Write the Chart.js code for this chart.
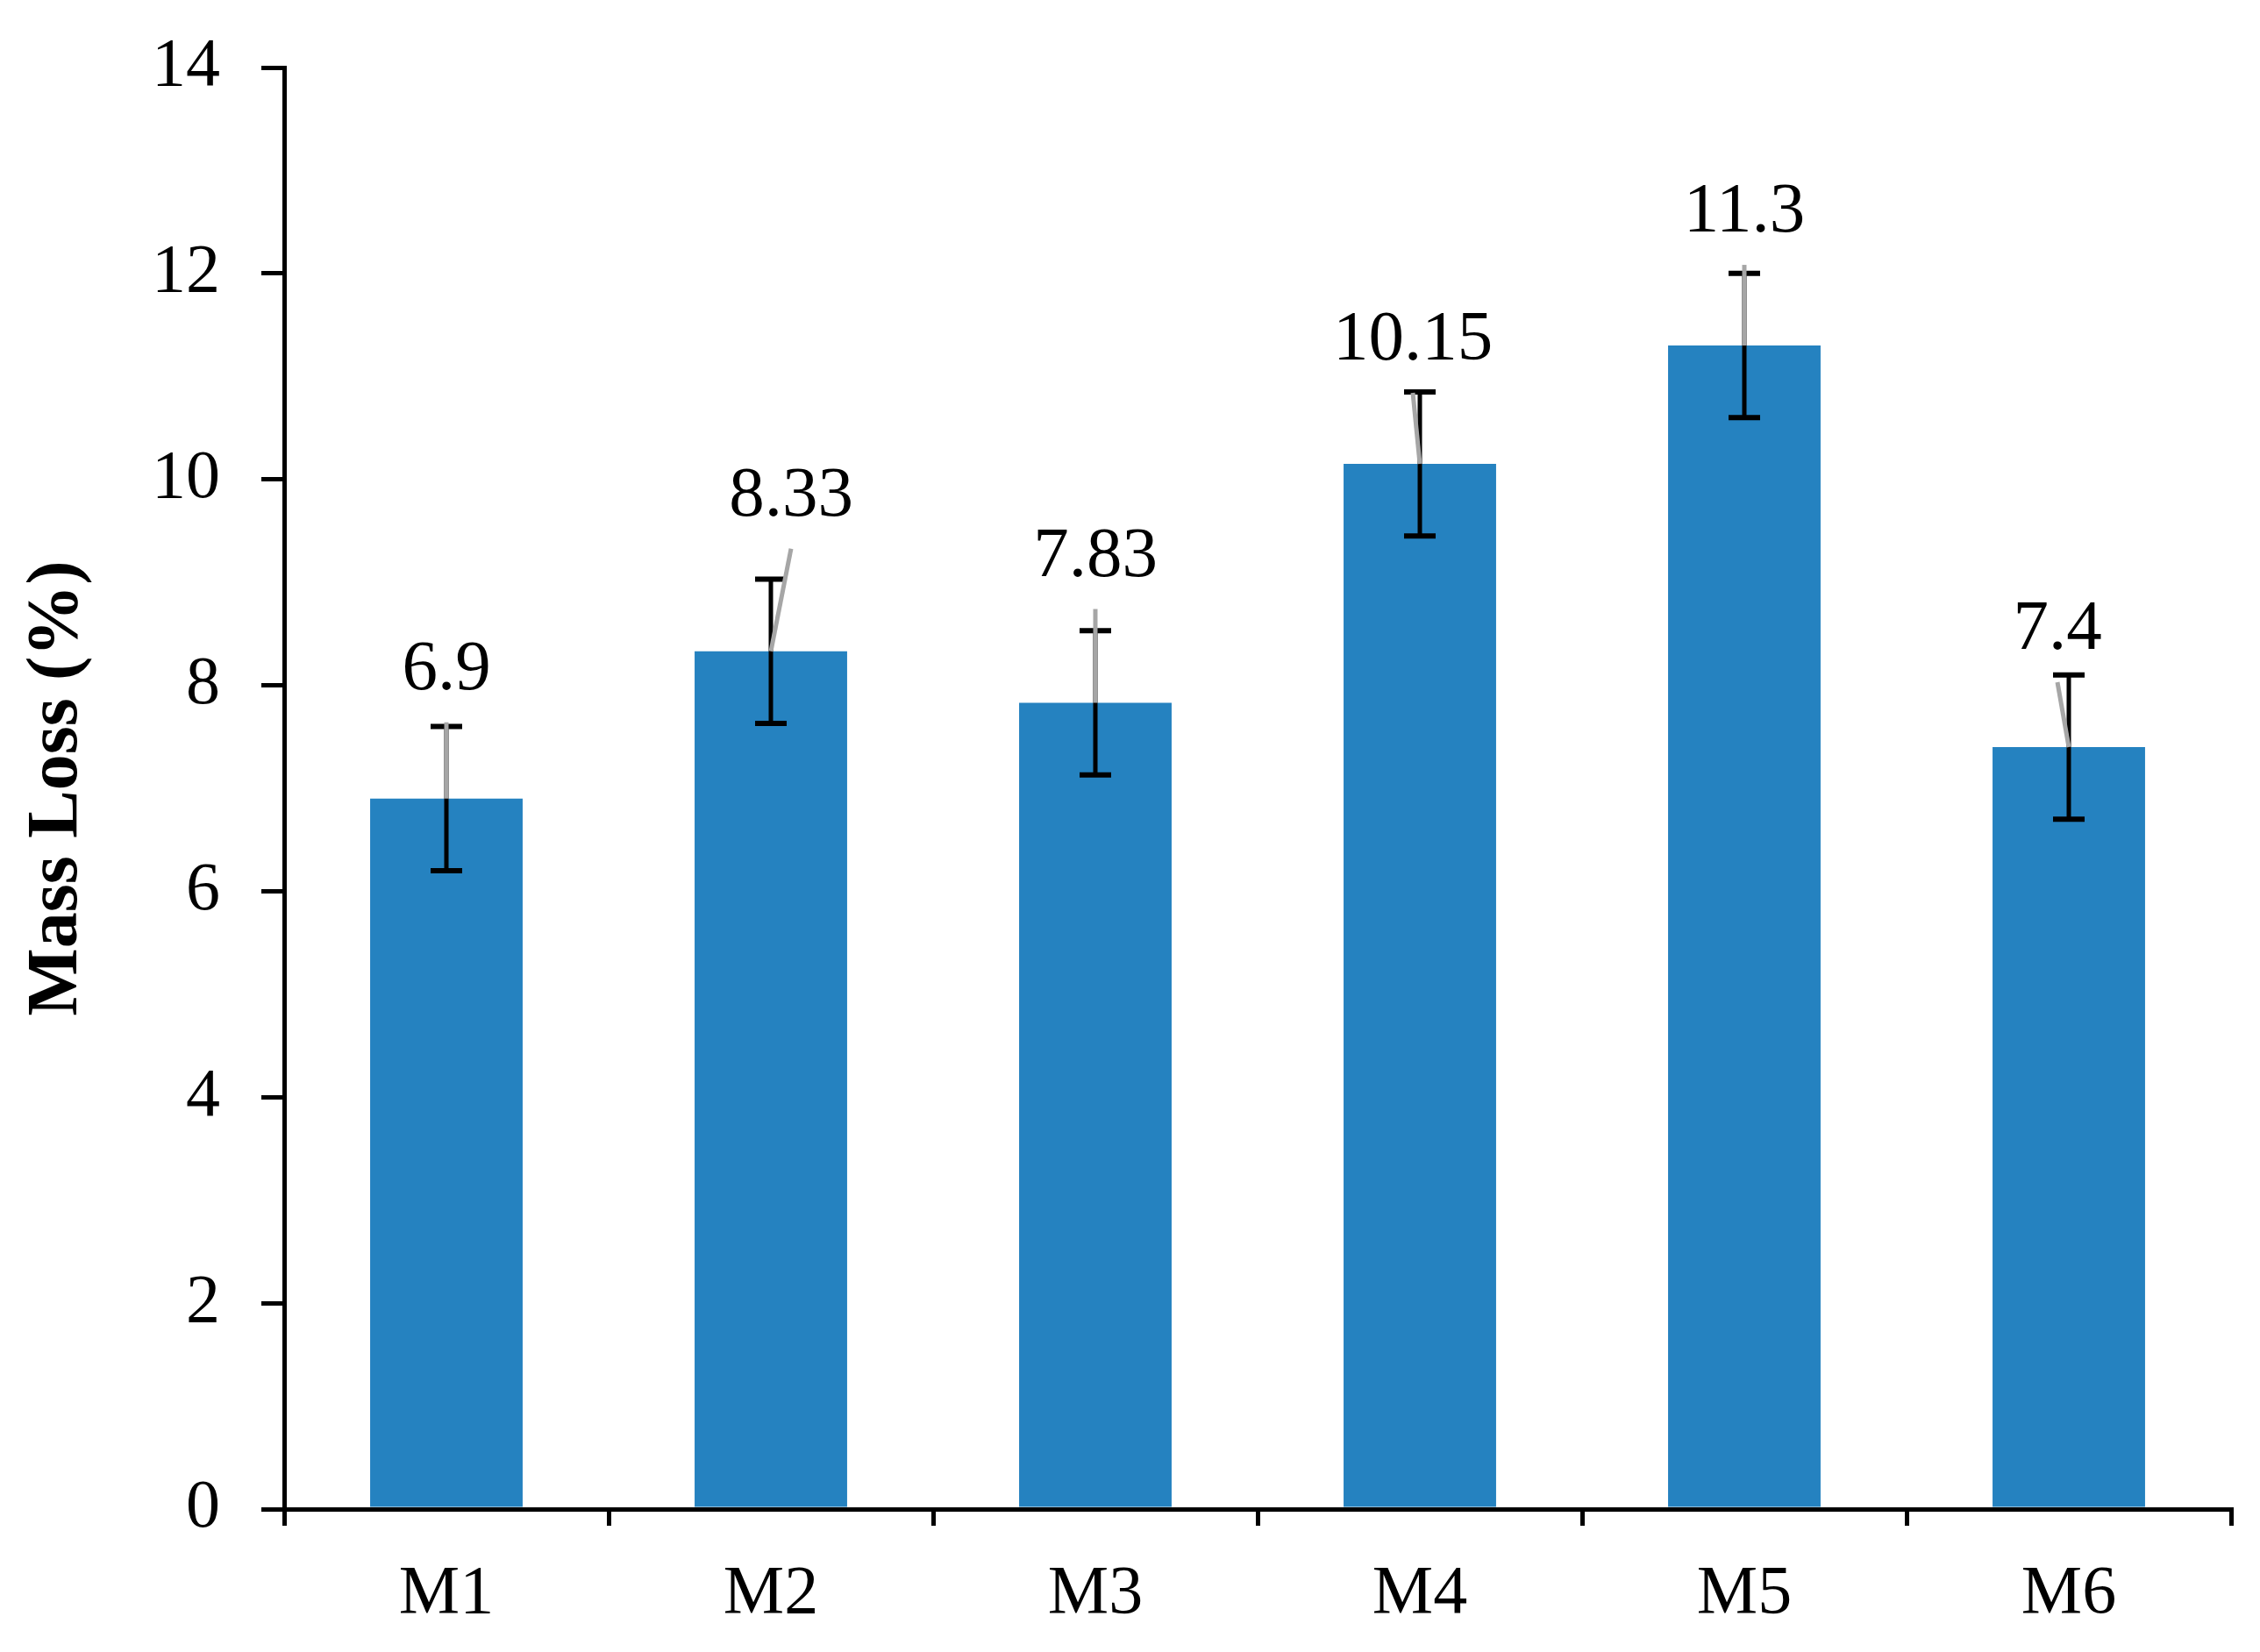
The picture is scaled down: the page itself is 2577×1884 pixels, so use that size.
<!DOCTYPE html>
<html>
<head>
<meta charset="utf-8">
<script src="https://cdn.jsdelivr.net/npm/chart.js@4/dist/chart.umd.min.js"></script>
<style>
  html, body { margin: 0; padding: 0; background: #ffffff; }
  #wrap { width: 2577px; height: 1884px; }
</style>
</head>
<body>
<div id="wrap"><canvas id="c" width="2577" height="1884"></canvas></div>
<script>
// ---- data ----
const categories = ['M1', 'M2', 'M3', 'M4', 'M5', 'M6'];
const massLoss = [6.9, 8.33, 7.83, 10.15, 11.3, 7.4];
const errorBars = [0.7, 0.7, 0.7, 0.7, 0.7, 0.7];
const yAxisMin = 0;
const yAxisMax = 14;
const yAxisStep = 2;
const yTitle = 'Mass Loss (%)';

// ---- styling (pixel offsets of the moved data labels) ----
const labelShift = [[0, -146], [23, -176], [0, -166], [-8, -140], [0, -151], [-13, -133]];

const FONT = '"Liberation Serif", "Times New Roman", Times, serif';

const errorAndLabelPlugin = {
  id: 'errorAndLabel',
  afterDatasetsDraw(chart) {
    const ctx = chart.ctx;
    const meta = chart.getDatasetMeta(0);
    const ys = chart.scales.y;
    ctx.save();
    ctx.strokeStyle = '#000000';
    ctx.lineCap = 'butt';
    meta.data.forEach((bar, i) => {
      const x = bar.x;
      const hi = ys.getPixelForValue(massLoss[i] + errorBars[i]);
      const lo = ys.getPixelForValue(massLoss[i] - errorBars[i]);
      ctx.lineWidth = 5;
      ctx.beginPath();
      ctx.moveTo(x, hi);
      ctx.lineTo(x, lo);
      ctx.stroke();
      ctx.lineWidth = 6;
      ctx.beginPath();
      ctx.moveTo(x - 18, hi);
      ctx.lineTo(x + 18, hi);
      ctx.moveTo(x - 18, lo);
      ctx.lineTo(x + 18, lo);
      ctx.stroke();
    });
    meta.data.forEach((bar, i) => {
      const x = bar.x;
      const top = ys.getPixelForValue(massLoss[i]);
      const lx = x + labelShift[i][0];
      const ly = top + labelShift[i][1];
      ctx.strokeStyle = '#A6A6A6';
      ctx.lineWidth = 5;
      ctx.beginPath();
      ctx.moveTo(x, top);
      ctx.lineTo(lx, ly + 59);
      ctx.stroke();
      ctx.fillStyle = '#000000';
      ctx.font = '81px ' + FONT;
      ctx.textAlign = 'center';
      ctx.textBaseline = 'middle';
      ctx.fillText(String(massLoss[i]), lx, ly);
    });
    ctx.restore();
  }
};

new Chart(document.getElementById('c'), {
  type: 'bar',
  data: {
    labels: categories,
    datasets: [{
      data: massLoss,
      backgroundColor: '#2582C0',
      borderWidth: 0,
      barPercentage: 0.47,
      categoryPercentage: 1.0
    }]
  },
  options: {
    responsive: false,
    animation: false,
    events: [],
    layout: { padding: { left: 0, right: 33, top: 77, bottom: 0 } },
    plugins: {
      legend: { display: false },
      tooltip: { enabled: false },
      title: { display: false }
    },
    scales: {
      x: {
        grid: {
          display: true,
          drawOnChartArea: false,
          drawTicks: true,
          tickLength: 19,
          color: '#000000',
          lineWidth: 5,
          offset: true
        },
        border: { display: true, color: '#000000', width: 5 },
        ticks: {
          color: '#000000',
          font: { family: FONT, size: 78 },
          padding: 32,
          maxRotation: 0
        },
        afterFit(scale) { scale.height = 1884 - 1721; }
      },
      y: {
        min: yAxisMin,
        max: yAxisMax,
        grid: {
          display: true,
          drawOnChartArea: false,
          drawTicks: true,
          tickLength: 26,
          color: '#000000',
          lineWidth: 5
        },
        border: { display: true, color: '#000000', width: 5 },
        ticks: {
          stepSize: yAxisStep,
          color: '#000000',
          font: { family: FONT, size: 78 },
          padding: 47
        },
        title: {
          display: true,
          text: yTitle,
          color: '#000000',
          font: { family: FONT, size: 82, weight: 'bold' },
          padding: { top: 17, bottom: 0 }
        },
        afterFit(scale) {
          scale.width = 324;
          scale.paddingTop = 40;
          scale.paddingBottom = 40;
        }
      }
    }
  },
  plugins: [errorAndLabelPlugin]
});
</script>
</body>
</html>
